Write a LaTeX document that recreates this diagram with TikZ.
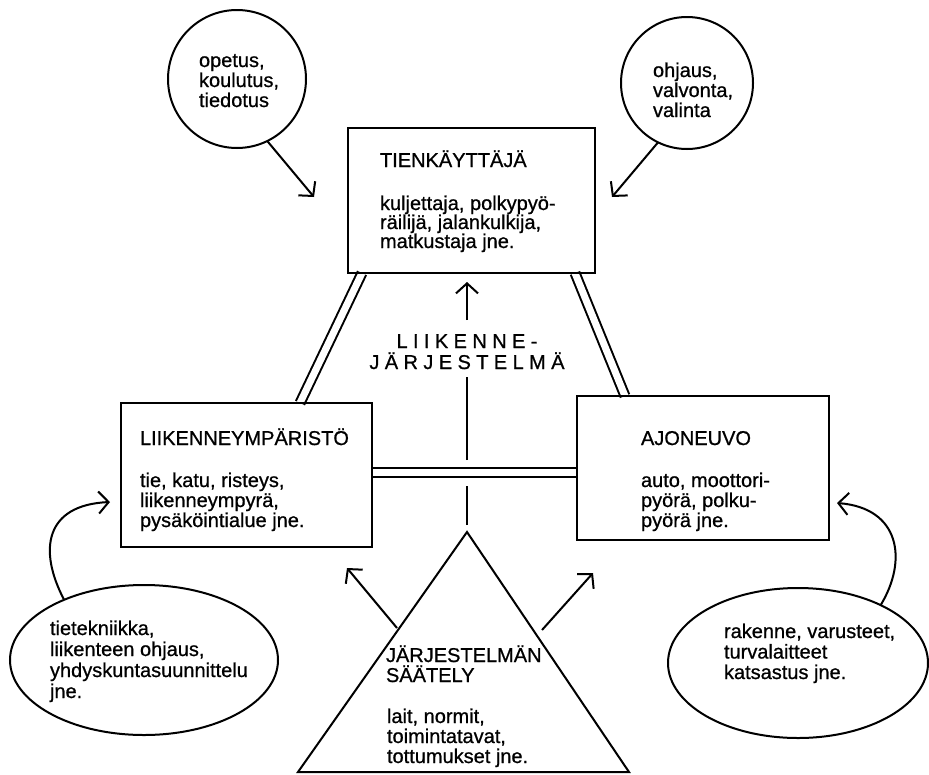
\documentclass[tikz,border=0pt]{standalone}
\usepackage{fontspec}
\setmainfont[FakeBold=0.8]{Liberation Sans}
\newfontfamily\spacedfont[LetterSpace=27,FakeBold=0.8]{Liberation Sans}
\usetikzlibrary{arrows.meta,shapes.geometric,backgrounds,calc}
\newcommand\txtlines[2]{\vtop{\baselineskip=#1\lineskiplimit=-100pt\lineskip=0pt\halign{##\hfil\cr#2\crcr}}}
\newcommand\ctrlines[2]{\vtop{\baselineskip=#1\lineskiplimit=-100pt\lineskip=0pt\halign{\hfil##\hfil\cr#2\crcr}}}
\begin{document}
\begin{tikzpicture}[x=1pt,y=-1pt,
  every node/.style={font=\fontsize{20pt}{20pt}\selectfont, inner sep=0pt, outer sep=0pt},
  box/.style={draw, rectangle, line width=2.3pt},
  ring/.style={draw, circle, line width=2pt},
  oval/.style={draw, ellipse, line width=2pt},
  txt/.style={anchor=base west},
  dbl/.style={double, line width=2pt, double distance=7pt},
  plain/.style={line width=2pt},
  arr/.style={line width=2pt, -{Straight Barb[length=10pt,width=22pt,line width=2pt]}}]
\useasboundingbox (0,0) rectangle (929,774);
% boxes
\node[box, minimum width=247pt, minimum height=145pt] (tk) at (471.5,200.5) {};
\node[box, minimum width=251pt, minimum height=144pt] (le) at (246.5,475) {};
\node[box, minimum width=252pt, minimum height=144pt] (ri) at (703,468) {};
% circles and ellipses
\node[ring, minimum size=138pt] (c1) at (237,79) {};
\node[ring, minimum size=132pt] (c2) at (687,83) {};
\node[oval, minimum width=268pt, minimum height=150pt] (lel) at (144,660) {};
\node[oval, minimum width=260pt, minimum height=150pt] (rel) at (798,663) {};
% triangle
\coordinate (ap) at (467,532);
\coordinate (bl) at (298,772);
\coordinate (br) at (629,772);
\draw[plain, line join=miter] (ap) -- (bl) -- (br) -- cycle;
% double links
\begin{scope}[on background layer]
\draw[dbl] ([xshift=14pt]tk.south west) -- ([xshift=179pt]le.north west);
\draw[dbl] ([xshift=-20pt]tk.south east) -- ([xshift=48pt]ri.north west);
\draw[dbl] ([yshift=3pt]le.east) -- ([yshift=-4pt]ri.west);
\end{scope}
% vertical line from triangle
\coordinate (v1) at (467,525);
\coordinate (v2) at (467,486);
\coordinate (v3) at (467,460);
\coordinate (v4) at (467,377);
\coordinate (v5) at (467,320);
\coordinate (vtip) at (467,282);
\draw[plain] (v1) -- (v2);
\draw[plain] (v3) -- (v4);
\draw[arr] (v5) -- (vtip);
% arrows
\coordinate (t1) at (314,197);
\coordinate (t2) at (612,197);
\draw[arr] (c1.-64) -- (t1);
\draw[arr] (c2.-116) -- (t2);
\coordinate (t3) at (110,502);
\coordinate (t4) at (837,503);
\draw[arr] (lel.143) .. controls (38,550) and (45,505) .. (t3);
\draw[arr] (rel.35) .. controls (908,560) and (900,508) .. (t4);
\coordinate (s5) at (397,628);
\coordinate (t5) at (347,568);
\coordinate (s6) at (542,630);
\coordinate (t6) at (593,573);
\draw[arr] (s5) -- (t5);
\draw[arr] (s6) -- (t6);
% texts
\node[txt] (tkh) at (380,167) {TIENKÄYTTÄJÄ};
\node[txt] (tkb) at (380,210) {\txtlines{19pt}{kuljettaja, polkypyö-\cr räilijä, jalankulkija,\cr matkustaja jne.}};
\node[txt] (leh) at (140,445) {LIIKENNEYMPÄRISTÖ};
\node[txt] (leb) at (140,487) {\txtlines{20pt}{tie, katu, risteys,\cr liikenneympyrä,\cr pysäköintialue jne.}};
\node[txt] (rih) at (641,445) {AJONEUVO};
\node[txt] (rib) at (641,487) {\txtlines{20pt}{auto, moottori-\cr pyörä, polku-\cr pyörä jne.}};
\node[txt] (c1t) at (199,67) {\txtlines{20pt}{opetus,\cr koulutus,\cr tiedotus}};
\node[txt] (c2t) at (653,77) {\txtlines{20pt}{ohjaus,\cr valvonta,\cr valinta}};
\node[txt] (lelt) at (50,635) {\txtlines{21pt}{tietekniikka,\cr liikenteen ohjaus,\cr yhdyskuntasuunnittelu\cr jne.}};
\node[txt] (relt) at (724,638) {\txtlines{20.5pt}{rakenne, varusteet,\cr turvalaitteet\cr katsastus jne.}};
\node[txt] (trh) at (386,662) {\txtlines{20pt}{JÄRJESTELMÄN\cr SÄÄTELY}};
\node[txt] (trb) at (387,723) {\txtlines{20pt}{lait, normit,\cr toimintatavat,\cr tottumukset jne.}};
\node[anchor=base] (ljs) at (467,348) {\spacedfont\ctrlines{21pt}{LIIKENNE-\cr JÄRJESTELMÄ}};
\end{tikzpicture}
\end{document}
